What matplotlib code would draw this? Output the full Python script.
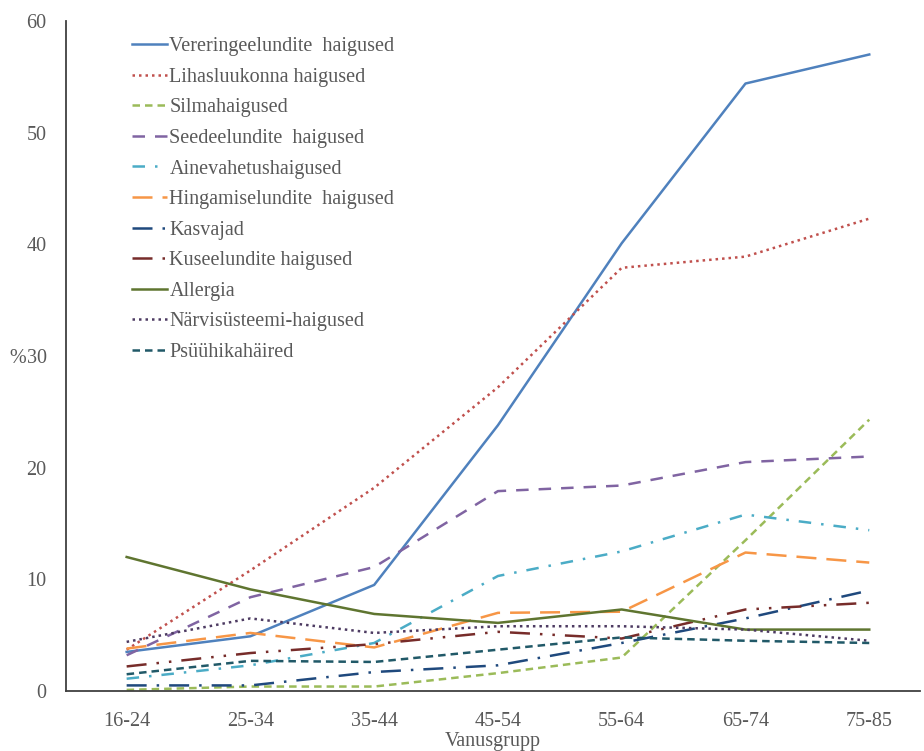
import matplotlib.pyplot as plt

# Age groups and share of people (%) with each disease group
age_groups = ['16-24', '25-34', '35-44', '45-54', '55-64', '65-74', '75-85']

vereringe = [3.5, 4.9, 9.5, 23.8, 40.1, 54.4, 57.0]
lihasluukonna = [3.7, 10.8, 18.2, 27.2, 37.9, 38.9, 42.3]
silma = [0.1, 0.4, 0.4, 1.6, 3.0, 13.5, 24.3]
seedeelundite = [3.2, 8.4, 11.1, 17.9, 18.4, 20.5, 21.0]
ainevahetus = [1.1, 2.3, 4.3, 10.3, 12.5, 15.8, 14.4]
hingamis = [3.8, 5.2, 3.9, 7.0, 7.1, 12.4, 11.5]
kasvajad = [0.5, 0.5, 1.7, 2.3, 4.3, 6.5, 9.0]
kuseelundite = [2.2, 3.4, 4.2, 5.3, 4.7, 7.3, 7.9]
allergia = [12.0, 9.1, 6.9, 6.1, 7.3, 5.5, 5.5]
narvisusteemi = [4.4, 6.5, 5.2, 5.8, 5.8, 5.5, 4.5]
psuuhika = [1.5, 2.7, 2.6, 3.7, 4.8, 4.5, 4.3]

series = [
    ('Vereringeelundite  haigused', vereringe, '#4F81BD', '-'),
    ('Lihasluukonna haigused', lihasluukonna, '#C0504D', (0, (1, 1.6))),
    ('Silmahaigused', silma, '#9BBB59', (0, (3, 2))),
    ('Seedeelundite  haigused', seedeelundite, '#8064A2', (0, (5, 4))),
    ('Ainevahetushaigused', ainevahetus, '#4BACC6', (0, (5, 4, 1, 4))),
    ('Hingamiselundite  haigused', hingamis, '#F79646', (0, (8, 4))),
    ('Kasvajad', kasvajad, '#1F497D', (0, (8, 4, 1, 4))),
    ('Kuseelundite haigused', kuseelundite, '#772C2A', (0, (8, 4, 1, 4, 1, 4))),
    ('Allergia', allergia, '#5F7530', '-'),
    ('Närvisüsteemi-haigused', narvisusteemi, '#4D3B62', (0, (1, 1.6))),
    ('Psüühikahäired', psuuhika, '#215968', (0, (3, 2))),
]

plt.rcParams['font.family'] = ['Liberation Serif', 'DejaVu Serif']
text_color = '#595959'
fs = 14.5

fig = plt.figure(figsize=(9.24, 7.51), dpi=100)
ax = fig.add_axes([66 / 924, 1 - 691 / 751, (920 - 66) / 924, (691 - 21) / 751])

x = range(len(age_groups))
for label, values, color, ls in series:
    ax.plot(x, values, color=color, linestyle=ls, linewidth=1.8, label=label)

ax.set_xlim(-0.49, 6.41)
ax.set_ylim(0, 60)
ax.set_yticks(range(0, 61, 10))
ax.set_xticks(list(x))
ax.set_xticklabels(age_groups)
ax.tick_params(axis='both', length=0, labelsize=fs, colors=text_color)
ax.tick_params(axis='x', pad=15)
ax.tick_params(axis='y', pad=14)

for side in ['top', 'right']:
    ax.spines[side].set_visible(False)
for side in ['left', 'bottom']:
    ax.spines[side].set_color('#404040')
    ax.spines[side].set_linewidth(1.3)

ax.set_xlabel('Vanusgrupp', fontsize=fs, color=text_color, labelpad=1)
# percent sign in front of the middle tick label
ax.annotate('%', xy=(0, 30), xycoords=ax.get_yaxis_transform(),
            xytext=(-28.5, 0), textcoords='offset points',
            ha='right', va='center_baseline', fontsize=fs, color=text_color)

leg = ax.legend(loc='upper left', bbox_to_anchor=(0.058, 1.0), frameon=False,
                fontsize=fs, handlelength=1.75, handletextpad=0.12, labelspacing=0.57,
                borderaxespad=0.4)
for t in leg.get_texts():
    t.set_color(text_color)

fig.savefig('out.png', dpi=100)
